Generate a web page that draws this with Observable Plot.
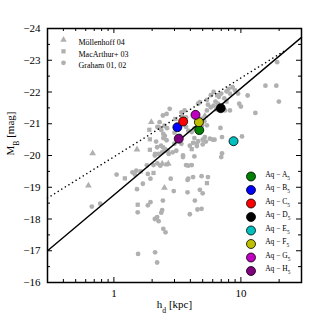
<!DOCTYPE html>
<html><head><meta charset="utf-8">
<script src="https://cdn.jsdelivr.net/npm/d3@7"></script>
<script src="https://cdn.jsdelivr.net/npm/@observablehq/plot@0.6"></script>
<style>body{margin:0;background:#fff}</style>
</head><body><div id="chart"></div>
<script>
// Graham 01, 02 (circles)
const grahamH = [0.67,0.78,1.05,1.40,1.46,1.50,1.52,1.69,1.54,1.85,1.94,2.10,2.19,2.25,1.55,2.11,2.19,1.82,2.10,2.28,2.11,2.19,1.85,1.94,2.05,2.20,2.32,2.25,2.40,2.55,2.70,2.90,3.10,3.50,3.70,3.85,2.80,3.80,2.96,3.80,2.43,2.40,2.36,3.96,2.45,2.55,3.96,4.50,5.30,6.00,4.30,7.00,4.10,4.20,4.90,5.50,3.85,4.75,5.00,4.34,4.55,4.90,2.75,2.43,2.60,3.40,3.60,3.45,3.70,2.29,2.50,2.62,2.36,2.45,2.52,2.15,2.45,2.60,2.35,2.43,2.52,2.65,3.00,3.40,4.60,4.75,5.40,5.80,6.10,6.30,6.70,7.00,7.40,7.70,8.00,8.20,8.60,5.50,5.80,6.10,5.40,6.40,6.60,7.50,8.20,9.00,9.50,9.70,10.0,11.3,13.0,15.6,19.0,19.9,19.3,4.90,5.15,4.95,5.40,3.30,3.70,3.85,4.10,4.30,5.20,5.70,6.20,6.90,7.10,4.30,4.60,5.00,4.20,4.50,5.00,7.10,10.2,2.20,3.50,3.30,3.00];
const grahamM = [-18.39,-18.48,-19.40,-19.47,-19.40,-19.52,-18.94,-19.11,-18.21,-18.43,-18.53,-18.00,-18.06,-17.93,-16.90,-16.95,-16.63,-19.69,-20.00,-20.88,-20.05,-20.26,-19.42,-19.27,-19.70,-19.75,-19.68,-20.05,-20.10,-20.15,-20.05,-20.10,-20.15,-20.00,-19.70,-19.68,-19.27,-19.23,-18.88,-18.84,-18.58,-18.28,-18.20,-18.15,-17.69,-17.58,-20.31,-20.37,-20.44,-20.50,-19.97,-19.95,-19.70,-19.32,-19.35,-19.32,-19.27,-18.92,-18.81,-18.58,-18.30,-18.32,-21.47,-21.26,-21.31,-21.36,-21.42,-21.24,-21.20,-21.05,-20.94,-20.86,-20.80,-20.68,-20.62,-20.44,-20.55,-20.48,-20.31,-20.26,-20.21,-20.16,-20.37,-20.37,-21.63,-21.68,-21.75,-21.90,-22.00,-21.70,-21.85,-21.95,-21.80,-22.02,-22.10,-21.95,-22.15,-21.60,-21.52,-21.57,-21.42,-21.45,-21.63,-21.42,-21.42,-22.05,-21.95,-21.63,-21.54,-21.89,-21.34,-22.20,-22.20,-21.70,-22.94,-21.15,-21.08,-20.95,-20.95,-20.95,-20.90,-20.78,-20.74,-20.85,-20.58,-20.53,-20.50,-20.87,-20.58,-20.55,-20.45,-20.50,-20.40,-20.30,-20.35,-20.07,-20.60,-20.90,-19.95,-20.62,-20.72];
// MacArthur+ 03 (squares)
const macH = [1.92,1.92,1.22,1.54,1.90,5.40,2.60,2.05,3.05,4.10,6.50,7.70,1.62];
const macM = [-20.51,-20.18,-19.28,-18.45,-20.81,-19.13,-19.72,-19.45,-21.15,-20.20,-21.90,-21.70,-19.50];
// Möllenhoff 04 (triangles)
const mollH = [0.68,0.63,1.97,1.52,2.50,2.40,2.68,5.20];
const mollM = [-20.07,-19.05,-21.05,-20.19,-18.98,-19.74,-19.74,-21.25];
// Aquarius haloes
const aqNames = ["A","B","C","D","E","F","G","H"];
const aqH = [4.70,3.16,3.51,6.94,8.75,4.67,4.39,3.24];
const aqM = [-20.80,-20.89,-21.07,-21.49,-20.45,-21.05,-21.28,-20.53];
const aqColors = ["#008000","#0000ff","#ff0000","#000000","#00bfbf","#bfbf00","#bf00bf","#800080"];
// relations
const fitH = [0.3, 30];
const fitM = [-17.0, -23.72];
const dotH = [0.3, 23];
const dotM = [-18.66, -23.34];
// ticks
const yTicks = [-24,-23,-22,-21,-20,-19,-18,-17,-16];
const yMinor = [-23.5,-22.5,-21.5,-20.5,-19.5,-18.5,-17.5,-16.5];
const xMajor = [1, 10];
const xMinor = [0.4,0.5,0.6,0.7,0.8,0.9,2,3,4,5,6,7,8,9,20];
const legendLabels = ["Möllenhoff 04","MacArthur+ 03","Graham 01, 02"];
const legendSymbols = ["triangle","square","circle"];

const grey = "#b0b0b0";
const W = 317, H = 317, mL = 47, mR = 16, mT = 28, mB = 35;
const pw = W - mL - mR, ph = H - mT - mB;

const graham = grahamH.map((h,i)=>({h, m: grahamM[i]}));
const mac = macH.map((h,i)=>({h, m: macM[i]}));
const moll = mollH.map((h,i)=>({h, m: mollM[i]}));
const aq = aqNames.map((n,i)=>({n, h: aqH[i], m: aqM[i], c: aqColors[i]}));
const fit = fitH.map((h,i)=>({h, m: fitM[i]}));
const dotted = dotH.map((h,i)=>({h, m: dotM[i]}));

const fmtY = d => d < 0 ? "\u2212" + (-d) : String(d);

const marks = [
  Plot.dot(graham, {x:"h", y:"m", r:2.4, fill:grey, symbol:"circle"}),
  Plot.dot(mac, {x:"h", y:"m", r:2.4, fill:grey, symbol:"square"}),
  Plot.dot(moll, {x:"h", y:"m", r:2.5, fill:grey, symbol:"triangle"}),
  Plot.line(dotted, {x:"h", y:"m", stroke:"black", strokeWidth:1.6, strokeDasharray:"0.01,4.2", strokeLinecap:"round"}),
  Plot.line(fit, {x:"h", y:"m", stroke:"black", strokeWidth:1.4}),
  Plot.dot(aq, {x:"h", y:"m", r:4.5, fill:"c", stroke:"black", strokeWidth:0.8}),
  // inward ticks
  Plot.tickY(yTicks, {y:d=>d, insetRight: pw-5, stroke:"black"}),
  Plot.tickY(yMinor, {y:d=>d, insetRight: pw-3, stroke:"black"}),
  Plot.tickY(yTicks, {y:d=>d, insetLeft: pw-5, stroke:"black"}),
  Plot.tickY(yMinor, {y:d=>d, insetLeft: pw-3, stroke:"black"}),
  Plot.tickX(xMajor, {x:d=>d, insetTop: ph-5, stroke:"black"}),
  Plot.tickX(xMinor, {x:d=>d, insetTop: ph-3, stroke:"black"}),
  Plot.tickX(xMajor, {x:d=>d, insetBottom: ph-5, stroke:"black"}),
  Plot.tickX(xMinor, {x:d=>d, insetBottom: ph-3, stroke:"black"}),
  Plot.frame({stroke:"black", strokeWidth:1.5}),
  // axis labels
  Plot.text(["h_d [kpc]"], {text:d=>d, frameAnchor:"bottom", dy:25, fontSize:11, fill:"black"}),
  Plot.text(["M_B [mag]"], {text:d=>d, frameAnchor:"left", dx:-37, rotate:-90, fontSize:11, fill:"black"}),
];
legendLabels.forEach((lab,i)=>{
  marks.push(Plot.dot([lab], {frameAnchor:"top-left", dx:16, dy:11.3+i*11.5, r:2.4, fill:grey, symbol:legendSymbols[i]}));
  marks.push(Plot.text([lab], {text:d=>d, frameAnchor:"top-left", dx:31, dy:11.3+i*11.5, textAnchor:"start", fontSize:8, fill:"black"}));
});
aq.forEach((d,i)=>{
  marks.push(Plot.dot([d], {frameAnchor:"bottom-right", dx:-50.5, dy:-106+i*13.5, r:4.5, fill:d.c, stroke:"black", strokeWidth:0.8}));
  marks.push(Plot.text([d], {text:e=>`Aq \u2212 ${e.n}_5`, frameAnchor:"bottom-right", dx:-36.3, dy:-106+i*13.5, textAnchor:"start", fontSize:7.5, fill:"black"}));
});

const svg = Plot.plot({
  width: W, height: H,
  marginLeft: mL, marginRight: mR, marginTop: mT, marginBottom: mB,
  style: {fontFamily: "'Liberation Serif', serif", fontSize: "11px", background: "#fff", color: "black"},
  x: {type:"log", domain:[0.3, 30], ticks: xMajor, tickSize:0, tickPadding:7, tickFormat:d=>String(d), label:null},
  y: {domain:[-16, -24], ticks: yTicks, tickSize:0, tickPadding:7, tickFormat: fmtY, label:null},
  marks
});
d3.select(svg).selectAll("text").each(function(){
  if (this.querySelector("tspan")) return;
  const t = this.textContent;
  const m = t.match(/^(.*?)_(\w)(.*)$/);
  if (!m) return;
  this.textContent = "";
  const s = d3.select(this);
  s.append("tspan").text(m[1]);
  s.append("tspan").attr("baseline-shift","sub").attr("font-size","70%").text(m[2]);
  if (m[3]) s.append("tspan").text(m[3]);
});
document.getElementById("chart").appendChild(svg);
</script>
</body></html>
